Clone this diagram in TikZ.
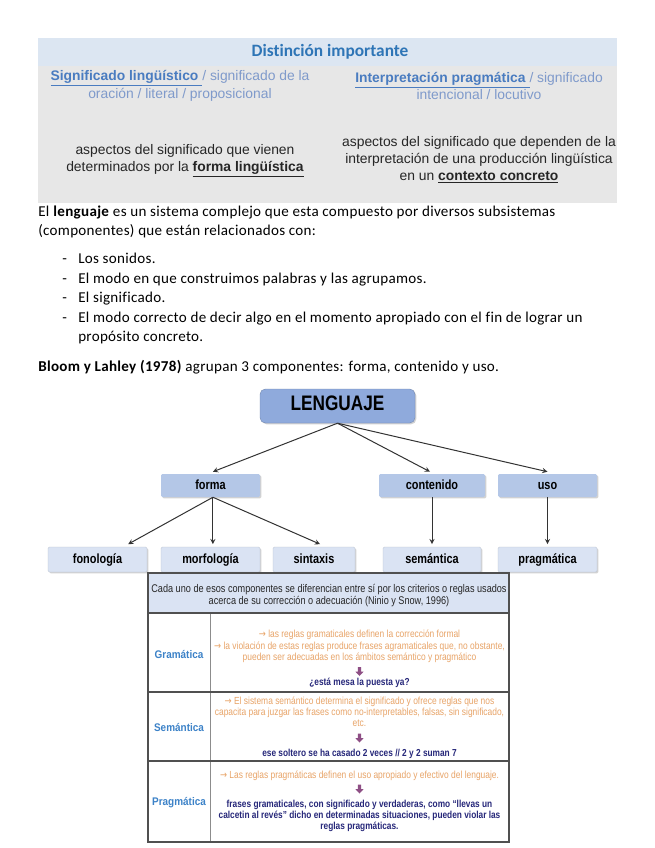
\documentclass[tikz,border=0pt]{standalone}
\usepackage{fontspec}
\setmainfont{Carlito}[LetterSpace=2,Ligatures=NoCommon]
\newfontfamily\titlefont{Carlito}[Ligatures=NoCommon]
\newfontfamily\arialfont{Liberation Sans}
\newfontfamily\narrowfont{Liberation Sans}[FakeStretch=0.82]
\newfontfamily\labelfont{Liberation Sans}[FakeStretch=0.9]
\newfontfamily\symfont{DejaVu Sans}[FakeStretch=0.82]
\usetikzlibrary{shadows,calc}
\newcommand{\setfs}[2]{\fontsize{#1}{#2}\selectfont}
\newcommand{\ruarrow}{{\symfont →}}
\definecolor{topgray}{HTML}{E7E7E7}
\definecolor{topband}{HTML}{DCE6F2}
\definecolor{titleblue}{HTML}{2E75B6}
\definecolor{linkblue}{HTML}{4A7CC0}
\definecolor{softblue}{HTML}{7F9ACB}
\definecolor{bodytext}{HTML}{262626}
\definecolor{langfill}{HTML}{8FAADC}
\definecolor{midfill}{HTML}{B4C7E7}
\definecolor{lowfill}{HTML}{DAE3F3}
\definecolor{headfill}{HTML}{DAE3F3}
\definecolor{ruleorange}{HTML}{E8A468}
\definecolor{labelblue}{HTML}{3C82C8}
\definecolor{navytext}{HTML}{27287A}
\definecolor{arrowpurple}{HTML}{8E4F85}
\definecolor{tablegray}{HTML}{505050}
\begin{document}
\begin{tikzpicture}[>=stealth,x=0.75pt,y=-0.75pt]
	\tikzset{
		bodyline/.style={anchor=west,inner sep=0pt,text height=0.75em,text depth=0.25em,font=\setfs{11.3pt}{13pt}},
		boxshadow/.style={drop shadow={shadow xshift=1pt,shadow yshift=-1pt,opacity=0.35}},
		langbox/.style={boxshadow,fill=langfill,draw=langfill!80!black,line width=0.3pt,rounded corners=4pt,minimum width=116.25pt,minimum height=25.5pt,text height=0.72em,text depth=0pt,font=\narrowfont\bfseries\setfs{15.75pt}{16pt}},
		midbox/.style={boxshadow,fill=midfill,rounded corners=1pt,minimum height=17.25pt,text height=0.75em,text depth=0.22em,font=\narrowfont\bfseries\setfs{10pt}{11pt}},
		lowbox/.style={boxshadow,fill=lowfill,draw=lowfill!85!black,line width=0.3pt,rounded corners=1pt,minimum height=18.75pt,text height=0.75em,text depth=0.22em,font=\narrowfont\bfseries\setfs{10pt}{11pt}},
		treearrow/.style={->,draw=black!80,line width=0.75pt},
		rowlabel/.style={text=labelblue,font=\labelfont\bfseries\setfs{8.3pt}{10pt}},
		ruletext/.style={text=ruleorange,align=center,font=\narrowfont\setfs{7.7pt}{8.3pt}},
		exampletext/.style={text=navytext,align=center,font=\narrowfont\bfseries\setfs{7.6pt}{8.5pt}},
		downarrow/.pic={\fill[arrowpurple] (-1.6,-4.5) -- (1.6,-4.5) -- (1.6,0) -- (4.2,0) -- (0,4.5) -- (-4.2,0) -- (-1.6,0) -- cycle;}
	}
	\useasboundingbox[fill=white] (0,0) rectangle (655,848);
	% cuadro superior
	\fill[topgray] (38,38) rectangle (617,203);
	\fill[topband] (38,38) rectangle (617,66);
	\node[text=titleblue,font=\titlefont\bfseries\setfs{13pt}{14pt}] (titulo) at (330,52) {Distinción importante};
	\node[text=softblue,align=center,font=\arialfont\setfs{10.4pt}{13.2pt}] (siglin) at (180,86)
		{\textcolor{linkblue}{\underline{\textbf{Significado lingüístico}\ }}/ significado de la\\oración / literal / proposicional};
	\node[text=softblue,align=center,font=\arialfont\setfs{10.4pt}{13.2pt}] (intprag) at (479,86)
		{\textcolor{linkblue}{\underline{\textbf{Interpretación pragmática}\ }}/ significado\\intencional / locutivo};
	\node[text=bodytext,align=center,font=\arialfont\setfs{10.4pt}{13pt}] (formaling) at (185,161)
		{aspectos del significado que vienen\\determinados por la \underline{\textbf{forma lingüística}}};
	\node[text=bodytext,align=center,font=\arialfont\setfs{10.4pt}{12.5pt}] (contexto) at (479,160)
		{aspectos del significado que dependen de la\\interpretación de una producción lingüística\\en un \underline{\textbf{contexto concreto}}};
	% texto
	\node[bodyline] (intro1) at (38,213) {El \textbf{lenguaje} es un sistema complejo que esta compuesto por diversos subsistemas};
	\node[bodyline] (intro2) at (38,232) {(componentes) que están relacionados con:};
	\foreach \y/\t [count=\i] in {260/Los sonidos.,280/El modo en que construimos palabras y las agrupamos.,299/El significado.,319/El modo correcto de decir algo en el momento apropiado con el fin de lograr un}{
		\node[bodyline] (dash\i) at (62,\y) {-};
		\node[bodyline] (item\i) at (78,\y) {\t};
	}
	\node[bodyline] (item5) at (78,338) {propósito concreto.};
	\node[bodyline] (bloom) at (38,368) {\textbf{Bloom y Lahley (1978)} agrupan 3 componentes: forma, contenido y uso.};
	% esquema
	\node[langbox] (lenguaje) at (337.5,406) {LENGUAJE};
	\node[midbox,minimum width=74.25pt] (forma) at (210.5,485.5) {forma};
	\node[midbox,minimum width=79.5pt] (contenido) at (432,485.5) {contenido};
	\node[midbox,minimum width=74.25pt] (uso) at (547.5,485.5) {uso};
	\node[lowbox,minimum width=74.25pt] (fonologia) at (97.5,559.5) {fonología};
	\node[lowbox,minimum width=74.25pt] (morfologia) at (210.5,559.5) {morfología};
	\node[lowbox,minimum width=61.5pt] (sintaxis) at (314,559.5) {sintaxis};
	\node[lowbox,minimum width=73.5pt] (semantica) at (432,559.5) {semántica};
	\node[lowbox,minimum width=74.25pt] (pragmatica) at (547.5,559.5) {pragmática};
	\draw[treearrow] (lenguaje.south) -- ([xshift=1.8pt,yshift=1.5pt]forma.north);
	\draw[treearrow] (lenguaje.south) -- ([xshift=-1.5pt,yshift=1.5pt]contenido.north);
	\draw[treearrow] (lenguaje.south) -- ([yshift=1.5pt]uso.north);
	\draw[treearrow] ([xshift=1.8pt]forma.south) -- ([xshift=23pt,yshift=2pt]fonologia.north);
	\draw[treearrow] ([xshift=1.8pt]forma.south) -- ([xshift=1.8pt,yshift=2pt]morfologia.north);
	\draw[treearrow] ([xshift=1.8pt]forma.south) -- ([xshift=4.5pt,yshift=2pt]sintaxis.north);
	\draw[treearrow] (contenido.south) -- ([yshift=2pt]semantica.north);
	\draw[treearrow] (uso.south) -- ([yshift=2pt]pragmatica.north);
	% tabla
	\fill[headfill] (148,573) rectangle (509,613);
	\draw[black!45,line width=0.6pt] (210,613) -- (210,842);
	\draw[tablegray,line width=0.8pt] (148,613) -- (509,613) (148,692) -- (509,692) (148,761) -- (509,761);
	\draw[tablegray,line width=1pt] (148,573) rectangle (509,842);
	\node[text=black!85,align=center,font=\narrowfont\setfs{8.35pt}{9pt}] (cabecera) at (329,596)
		{Cada uno de esos componentes se diferencian entre sí por los criterios o reglas usados\\acerca de su corrección o adecuación (Ninio y Snow, 1996)};
	\node[rowlabel] (gramatica) at (179,654) {Gramática};
	\node[rowlabel] (semlabel) at (179,727) {Semántica};
	\node[rowlabel] (praglabel) at (179,803) {Pragmática};
	\node[ruletext] (gram1) at (359.5,635) {\ruarrow{} las reglas gramaticales definen la corrección formal};
	\node[ruletext] (gram2) at (359.5,652.5) {\ruarrow{} la violación de estas reglas produce frases agramaticales que, no obstante,\\pueden ser adecuadas en los ámbitos semántico y pragmático};
	\pic at (359.5,671.5) {downarrow};
	\node[exampletext] (gramej) at (359.5,683) {¿está mesa la puesta ya?};
	\node[ruletext] (sem1) at (359.5,712) {\ruarrow{} El sistema semántico determina el significado y ofrece reglas que nos\\capacita para juzgar las frases como no-interpretables, falsas, sin significado,\\etc.};
	\pic at (359.5,738) {downarrow};
	\node[exampletext] (semej) at (359.5,754) {ese soltero se ha casado 2 veces // 2 y 2 suman 7};
	\node[ruletext] (prag1) at (359.5,776) {\ruarrow{} Las reglas pragmáticas definen el uso apropiado y efectivo del lenguaje.};
	\pic at (359.5,789) {downarrow};
	\node[exampletext] (pragej) at (359.5,816) {frases gramaticales, con significado y verdaderas, como “llevas un\\calcetin al revés” dicho en determinadas situaciones, pueden violar las\\reglas pragmáticas.};
\end{tikzpicture}
\end{document}
